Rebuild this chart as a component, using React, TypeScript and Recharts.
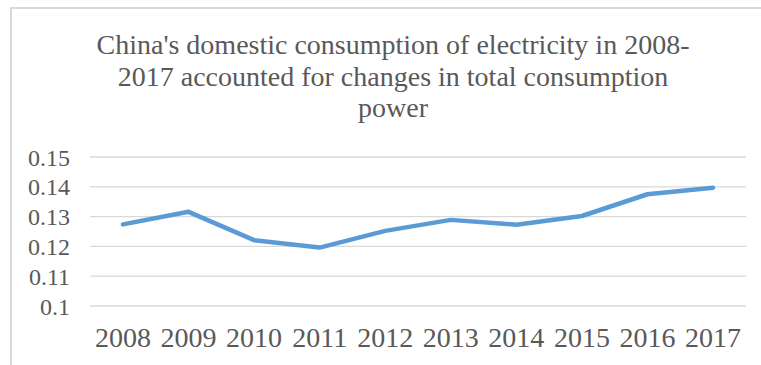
import React from "react"
import { LineChart, Line, XAxis, YAxis, CartesianGrid } from "recharts"

const years = ["2008", "2009", "2010", "2011", "2012", "2013", "2014", "2015", "2016", "2017"]
const shares = [0.1274, 0.1316, 0.1221, 0.1196, 0.1252, 0.1289, 0.1273, 0.1302, 0.1375, 0.1397]
const yTicks = [0.1, 0.11, 0.12, 0.13, 0.14, 0.15]
const titleLines = [
	"China's domestic consumption of electricity in 2008-",
	"2017 accounted for changes in total consumption",
	"power"
]

const FONT = "Liberation Serif"
const GREY = "#595959"

const data = years.map((y, i) => ({ year: y, value: shares[i] }))

export default function App() {
	return (
		<div
			style={{
				position: "absolute",
				left: 0,
				top: 0,
				width: 761,
				height: 365,
				overflow: "hidden",
				background: "#fff"
			}}
		>
			{/* chart frame, cut off on the right and bottom */}
			<div
				style={{
					position: "absolute",
					left: 10,
					top: 7,
					width: 800,
					height: 400,
					border: "2px solid #d9d9d9",
					boxSizing: "border-box"
				}}
			/>
			<svg width={761} height={130} style={{ position: "absolute", left: 0, top: 0 }}>
				{titleLines.map((t, i) => (
					<text key={t} x={393} y={54 + i * 31.5} textAnchor="middle" fill={GREY} fontFamily={FONT} fontSize={28}>
						{t}
					</text>
				))}
			</svg>
			<div style={{ position: "absolute", left: 0, top: 0 }}>
				<LineChart width={761} height={365} data={data} margin={{ top: 157, right: 15, bottom: 19, left: 0 }}>
					<CartesianGrid horizontal vertical={false} stroke="#d9d9d9" strokeWidth={1.3} />
					<XAxis
						dataKey="year"
						axisLine={false}
						tickLine={false}
						tickSize={0}
						tickMargin={21}
						height={40}
						interval={0}
						padding={{ left: 33, right: 33 }}
						tick={{ fill: GREY, fontSize: 28, fontFamily: FONT }}
					/>
					<YAxis
						domain={[0.1, 0.15]}
						ticks={yTicks}
						interval={0}
						axisLine={false}
						tickLine={false}
						tickSize={0}
						tickMargin={20}
						width={90}
						tickFormatter={(v: number) => String(v)}
						tick={{ fill: GREY, fontSize: 24, fontFamily: FONT }}
					/>
					<Line
						type="linear"
						dataKey="value"
						stroke="#5b9bd5"
						strokeWidth={4.5}
						strokeLinecap="round"
						strokeLinejoin="round"
						dot={false}
						isAnimationActive={false}
					/>
				</LineChart>
			</div>
		</div>
	)
}
